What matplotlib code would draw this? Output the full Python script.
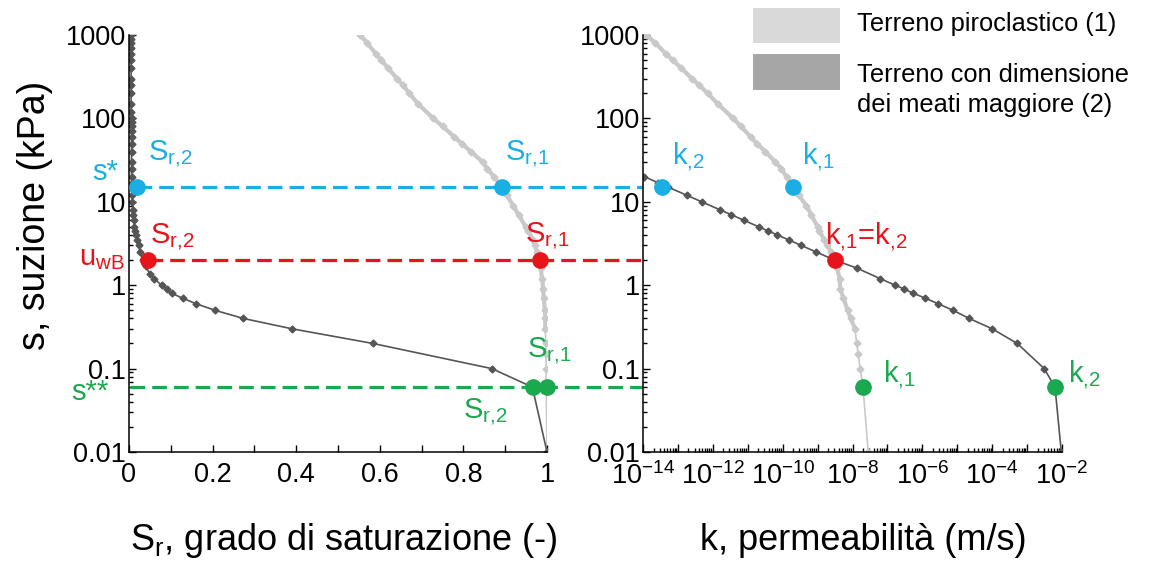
import numpy as np
import matplotlib
matplotlib.use("Agg")
import matplotlib.pyplot as plt
from matplotlib.patches import Rectangle
from matplotlib.ticker import LogLocator, FixedLocator, FixedFormatter, FuncFormatter, NullFormatter

plt.rcParams.update({
    "font.family": ["Liberation Sans", "DejaVu Sans"],
    "mathtext.fontset": "custom",
    "mathtext.rm": "Liberation Sans",
    "mathtext.it": "Liberation Sans",
    "mathtext.default": "regular",
})

# --- soil 1 (piroclastico): suction, degree of saturation, log10 permeability
s_1 = [1000, 800, 600, 500, 400, 300, 250, 200, 150, 100, 80, 60, 50, 40, 30, 25, 20,
       15, 12, 9, 7, 5, 4.5, 3.5, 3, 2.5, 2, 1.6, 1.2, 0.9, 0.7, 0.5, 0.4, 0.3, 0.2,
       0.15, 0.1, 0.06, 0.01]
sr_1 = [0.553, 0.570, 0.590, 0.603, 0.620, 0.641, 0.655, 0.671, 0.691, 0.728, 0.751,
        0.778, 0.796, 0.818, 0.846, 0.857, 0.873, 0.892, 0.904, 0.919, 0.932, 0.949,
        0.955, 0.966, 0.971, 0.976, 0.983, 0.985, 0.988, 0.991, 0.992, 0.995, 0.9955,
        0.996, 0.997, 0.9975, 0.998, 0.998, 1.0]
logk_1 = [-13.9, -13.65, -13.35, -13.15, -12.9, -12.6, -12.39, -12.15, -11.86, -11.42,
          -11.19, -10.92, -10.74, -10.5, -10.21, -10.04, -9.89, -9.7, -9.54, -9.32,
          -9.18, -9.0, -8.95, -8.81, -8.72, -8.62, -8.5, -8.44, -8.37, -8.35, -8.26,
          -8.14, -8.05, -7.93, -7.88, -7.84, -7.78, -7.70, -7.55]

# --- soil 2 (larger pores)
s_2 = [1000, 900, 800, 700, 600, 500, 400, 300, 250, 200, 150, 120, 100, 90, 80, 70,
       60, 50, 40, 30, 25, 20, 17, 15, 12, 10, 8, 7, 6, 5, 4.5, 4, 3.5, 3, 2.5, 2,
       1.7, 1.35, 1.2, 1.0, 0.9, 0.8, 0.7, 0.6, 0.5, 0.4, 0.3, 0.2, 0.1, 0.06, 0.01]
sr_2 = [0.005, 0.005, 0.005, 0.005, 0.005, 0.005, 0.005, 0.005, 0.005, 0.005, 0.005,
        0.005, 0.006, 0.006, 0.006, 0.006, 0.006, 0.006, 0.006, 0.006, 0.006, 0.006,
        0.007, 0.007, 0.007, 0.008, 0.009, 0.010, 0.011, 0.013, 0.015, 0.017, 0.020,
        0.023, 0.027, 0.033, 0.040, 0.050, 0.060, 0.078, 0.090, 0.102, 0.128, 0.160,
        0.206, 0.273, 0.390, 0.584, 0.868, 0.965, 1.0]
s_2k = [20, 17, 15, 12, 10, 8, 7, 6, 5, 4.5, 4, 3.5, 3, 2.5, 2, 1.6, 1.2, 1.0, 0.9,
        0.8, 0.7, 0.6, 0.5, 0.4, 0.3, 0.2, 0.1, 0.06, 0.01]
logk_2 = [-13.96, -13.58, -13.28, -12.75, -12.32, -11.79, -11.47, -11.11, -10.68,
          -10.43, -10.15, -9.83, -9.47, -9.04, -8.51, -7.87, -7.21, -6.78, -6.52,
          -6.26, -5.92, -5.55, -5.12, -4.66, -4.0, -3.28, -2.51, -2.2, -2.02]

# --- highlighted suction levels: s*, u_wB, s**
s_levels = [15, 2, 0.06]
level_colors = ["#1BAEE3", "#E8141B", "#1BA84E"]
sr_dots = [[0.018, 0.892], [0.046, 0.983], [0.967, 0.999]]
logk_dots = [[-13.46, -9.7], [-8.5], [-7.7, -2.2]]
line_start_sr = [0.018, 0.046, 0.003]
line_end_logk = [-9.7, -8.5, -2.2]

yticks = [0.01, 0.1, 1, 10, 100, 1000]
ytick_labels = ["0.01", "0.1", "1", "10", "100", "1000"]

W, H = 1171, 565
fig = plt.figure(figsize=(W / 100, H / 100), dpi=100)
ax1 = fig.add_axes([129 / W, 113 / H, 418 / W, 417 / H])
ax2 = fig.add_axes([643 / W, 113 / H, 419 / W, 417 / H])

light = "#c9c9c9"
dark = "#555555"
n_thick = s_1.index(0.3) + 1  # light curve drawn thicker above s = 0.3

ax1.plot(sr_1, s_1, color=light, lw=1.2, marker="D", ms=3.5, mec=light, mfc=light, zorder=2)
ax1.plot(sr_1[:n_thick], s_1[:n_thick], color=light, lw=3, zorder=2)
ax1.plot(sr_2, s_2, color=dark, lw=1.2, marker="D", ms=3.5, mec=dark, mfc=dark, zorder=2)

k_1 = 10 ** np.array(logk_1)
ax2.plot(k_1, s_1, color=light, lw=1.2, marker="D", ms=3.5, mec=light, mfc=light, zorder=2)
ax2.plot(k_1[:n_thick], s_1[:n_thick], color=light, lw=3, zorder=2)
ax2.plot(10 ** np.array(logk_2), s_2k, color=dark, lw=1.2, marker="D", ms=3.5, mec=dark,
         mfc=dark, zorder=2)

for ax in (ax1, ax2):
    ax.set_yscale("log")
    ax.set_ylim(0.01, 1000)
    ax.yaxis.set_major_locator(FixedLocator(yticks))
    ax.yaxis.set_major_formatter(FixedFormatter(ytick_labels))
    ax.yaxis.set_minor_locator(LogLocator(base=10, subs=np.arange(2, 10), numticks=20))
    ax.yaxis.set_minor_formatter(NullFormatter())
    for sp in ("top", "right"):
        ax.spines[sp].set_visible(False)
    for sp in ("left", "bottom"):
        ax.spines[sp].set_linewidth(1.1)
    ax.tick_params(which="both", direction="in", labelsize=19.5, width=1, pad=2)
    ax.tick_params(axis="x", which="both", pad=7)
    ax.tick_params(which="major", length=5)
    ax.tick_params(which="minor", length=3)

ax1.set_xlim(0, 1)
ax1.set_xticks(np.arange(0, 1.01, 0.2))
ax1.set_xticklabels(["0", "0.2", "0.4", "0.6", "0.8", "1"])
ax1.set_xticks(np.arange(0.1, 1.0, 0.2), minor=True)
ax1.tick_params(axis="x", which="minor", length=5)

ax2.set_xscale("log")
ax2.set_xlim(1e-14, 1e-2)
ax2.xaxis.set_major_locator(FixedLocator(10.0 ** np.arange(-14, -1)))
ax2.xaxis.set_major_formatter(FuncFormatter(
    lambda v, p: r"$10^{%d}$" % round(np.log10(v)) if round(np.log10(v)) % 2 == 0 else ""))
ax2.xaxis.set_minor_locator(LogLocator(base=10, subs=np.arange(2, 10), numticks=30))
ax2.xaxis.set_minor_formatter(NullFormatter())
ax2.tick_params(axis="x", which="major", length=6, pad=7)

# dashed levels drawn across both panels
for s, col, x0, lk in zip(s_levels, level_colors, line_start_sr, line_end_logk):
    px = ax2.transData.transform((10 ** lk, s))
    xend = ax1.transData.inverted().transform(px)[0]
    ax1.plot([x0, xend], [s, s], color=col, lw=2.3, ls=(0, (4.6, 2.2)), clip_on=False, zorder=3)

for s, col, xs in zip(s_levels, level_colors, sr_dots):
    ax1.plot(xs, [s] * len(xs), "o", color=col, ms=11, clip_on=False, zorder=4)
for s, col, lks in zip(s_levels, level_colors, logk_dots):
    ax2.plot(10 ** np.array(lks), [s] * len(lks), "o", color=col, ms=11, clip_on=False, zorder=4)

fs = 21
blue, red, green = level_colors
sr2 = r"S$_{r{,}2}$"
sr1 = r"S$_{r{,}1}$"
k1 = r"k$_{{,}1}$"
k2 = r"k$_{{,}2}$"
# left panel labels
ax1.text(-0.025, 23, "s*", color=blue, fontsize=fs, ha="right", va="center")
ax1.text(0.045, 37, sr2, color=blue, fontsize=fs, ha="left", va="center")
ax1.text(0.900, 37, sr1, color=blue, fontsize=fs, ha="left", va="center")
ax1.text(-0.01, 2.1, r"u$_{wB}$", color=red, fontsize=fs, ha="right", va="center")
ax1.text(0.050, 3.7, sr2, color=red, fontsize=fs, ha="left", va="center")
ax1.text(0.947, 3.8, sr1, color=red, fontsize=fs, ha="left", va="center")
ax1.text(0.952, 0.16, sr1, color=green, fontsize=fs, ha="left", va="center")
ax1.text(0.800, 0.03, sr2, color=green, fontsize=fs, ha="left", va="center")
ax1.text(-0.05, 0.053, "s**", color=green, fontsize=fs, ha="right", va="center")
# right panel labels
ax2.text(10 ** -13.17, 35, k2, color=blue, fontsize=fs, ha="left", va="center")
ax2.text(10 ** -9.44, 35, k1, color=blue, fontsize=fs, ha="left", va="center")
ax2.text(10 ** -8.78, 3.8, k1 + "=" + k2, color=red, fontsize=fs, ha="left", va="center")
ax2.text(10 ** -7.12, 0.085, k1, color=green, fontsize=fs, ha="left", va="center")
ax2.text(10 ** -1.82, 0.085, k2, color=green, fontsize=fs, ha="left", va="center")

# axis titles
fig.text(344 / W, 1 - 540 / H, r"S$_r$, grado di saturazione (-)", fontsize=26,
         ha="center", va="center")
fig.text(863 / W, 1 - 540 / H, "k, permeabilità (m/s)", fontsize=26, ha="center", va="center")
fig.text(35 / W, 1 - 215 / H, "s, suzione (kPa)", fontsize=27, ha="center", va="center",
         rotation=90)

# legend
fig.add_artist(Rectangle((753 / W, 1 - 43 / H), 87 / W, 35 / H, transform=fig.transFigure,
                         color="#d9d9d9", lw=0))
fig.add_artist(Rectangle((753 / W, 1 - 90 / H), 87 / W, 36 / H, transform=fig.transFigure,
                         color="#a6a6a6", lw=0))
fig.text(857 / W, 1 - 24 / H, "Terreno piroclastico (1)", fontsize=18.3, va="center")
fig.text(857 / W, 1 - 90 / H, "Terreno con dimensione\ndei meati maggiore (2)", fontsize=18.3,
         va="center", linespacing=1.3)

fig.savefig("out.png", dpi=100)
